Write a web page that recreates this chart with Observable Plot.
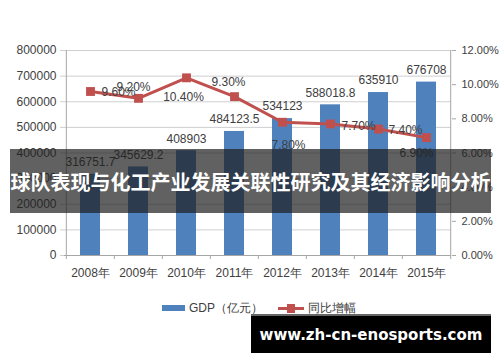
<!DOCTYPE html>
<html>
<head>
<meta charset="utf-8">
<script src="https://cdn.jsdelivr.net/npm/d3@7"></script>
<script src="https://cdn.jsdelivr.net/npm/@observablehq/plot@0.6"></script>
<style>
  html, body { margin: 0; padding: 0; background: #fff; }
  #wrap { position: relative; width: 500px; height: 362px; overflow: hidden; font-family: "Liberation Sans", Arial, sans-serif; }
  #chart svg { display: block; }
  .legend { position: absolute; top: 300px; font-size: 12px; color: #404040; display: flex; align-items: center; height: 16px; }
  .sw-bar { width: 23px; height: 6px; background: #4f81bd; margin-right: 4px; }
  .sw-line { position: relative; width: 26px; height: 3px; background: #c0504d; margin-right: 4px; }
  .sw-line::after { content: ""; position: absolute; left: 9px; top: -3px; width: 8px; height: 9px; background: #c0504d; }
  #banner { position: absolute; left: 10px; top: 149px; width: 481px; height: 64px; background: rgba(30,30,30,0.7);
            color: #fff; font: bold 20px "Noto Sans CJK SC", sans-serif; display: flex; align-items: center; justify-content: center; white-space: nowrap; }
  #mark { position: absolute; left: 251px; top: 314px; width: 240px; height: 39px; background: #000; border-top: 2px solid #666; box-sizing: border-box;
          color: #fff; font: bold 15px "DejaVu Sans", sans-serif; display: flex; align-items: center; justify-content: center; }
</style>
</head>
<body>
<div id="wrap">
  <div id="chart"></div>
  <div class="legend" style="left:162px"><div class="sw-bar"></div>GDP（亿元）</div>
  <div class="legend" style="left:278px"><div class="sw-line"></div>同比增幅</div>
  <div id="banner">球队表现与化工产业发展关联性研究及其经济影响分析</div>
  <div id="mark">www.zh-cn-enosports.com</div>
</div>
<script>
const years = ["2008年", "2009年", "2010年", "2011年", "2012年", "2013年", "2014年", "2015年"];
const gdp = [316751.7, 345629.2, 408903, 484123.5, 534123, 588018.8, 635910, 676708];
const growth = [9.6, 9.2, 10.4, 9.3, 7.8, 7.7, 7.4, 6.9];
const leftTicks = [0, 100000, 200000, 300000, 400000, 500000, 600000, 700000, 800000];
const rightTicks = [0, 2, 4, 6, 8, 10, 12];

// layout (label placement of growth labels, Excel-like)
const labelOffsets = [
  {dx: 28, dy: 1}, {dx: -5, dy: -11}, {dx: -3, dy: 19}, {dx: -6, dy: -14},
  {dx: 6, dy: 23}, {dx: 28, dy: 2}, {dx: 27, dy: 1}, {dx: -10, dy: 16}
];

const W = 500, H = 362, mT = 50, mR = 49, mB = 107, mL = 64;
const yMax = 800000, pctMax = 12;
const toY = p => p / pctMax * yMax;
const bw = (W - mL - mR) / years.length;
const pxToUnits = px => px * yMax / (H - mT - mB);

const data = years.map((year, i) => ({year, gdp: gdp[i], growth: growth[i], i}));
const axisColor = "#a6a6a6", gridColor = "#cfcfcf", textColor = "#404040";

const marks = [
  Plot.ruleY(leftTicks, {y: d => d, stroke: gridColor}),
  Plot.axisY(leftTicks, {anchor: "left", label: null, tickSize: 4, tickPadding: 4, stroke: gridColor, fill: textColor, tickFormat: d3.format("d")}),
  Plot.axisY(rightTicks.map(toY), {anchor: "right", label: null, tickSize: 4, tickPadding: 6, fontSize: 11, stroke: axisColor, fill: textColor, tickFormat: d => (d / yMax * pctMax).toFixed(2) + "%"}),
  Plot.ruleX([years[0]], {x: d => d, dx: -bw / 2, y1: 0, y2: yMax, stroke: axisColor}),
  Plot.ruleX([years[years.length - 1]], {x: d => d, dx: bw / 2, y1: 0, y2: yMax, stroke: axisColor}),
  Plot.ruleX(years, {x: d => d, dx: -bw / 2, y1: 0, y2: -pxToUnits(4), stroke: axisColor}),
  Plot.ruleX([years[years.length - 1]], {x: d => d, dx: bw / 2, y1: 0, y2: -pxToUnits(4), stroke: axisColor}),
  Plot.barY(data, {x: "year", y: "gdp", fill: "#4f81bd", insetLeft: 14, insetRight: 14}),
  Plot.ruleY([0], {stroke: axisColor}),
  Plot.axisX({anchor: "bottom", label: null, tickSize: 0, tickPadding: 13, fill: textColor}),
  Plot.text(data, {x: "year", y: "gdp", text: d => String(d.gdp), dy: -12, fill: textColor, fontSize: 12}),
  Plot.lineY(data, {x: "year", y: d => toY(d.growth), stroke: "#c0504d", strokeWidth: 3}),
  Plot.dot(data, {x: "year", y: d => toY(d.growth), symbol: "square", r: 5, fill: "#c0504d"})
];
data.forEach((d, i) => {
  marks.push(Plot.text([d], {x: "year", y: v => toY(v.growth), text: v => v.growth.toFixed(2) + "%",
    dx: labelOffsets[i].dx, dy: labelOffsets[i].dy, fill: textColor, fontSize: 12}));
});

const chart = Plot.plot({
  width: W, height: H, marginTop: mT, marginRight: mR, marginBottom: mB, marginLeft: mL,
  style: {fontFamily: "Liberation Sans, Arial, sans-serif", fontSize: "12px", background: "transparent", color: textColor},
  x: {domain: years, padding: 0, axis: null},
  y: {domain: [0, yMax], axis: null},
  marks
});
document.getElementById("chart").appendChild(chart);
</script>
</body>
</html>
